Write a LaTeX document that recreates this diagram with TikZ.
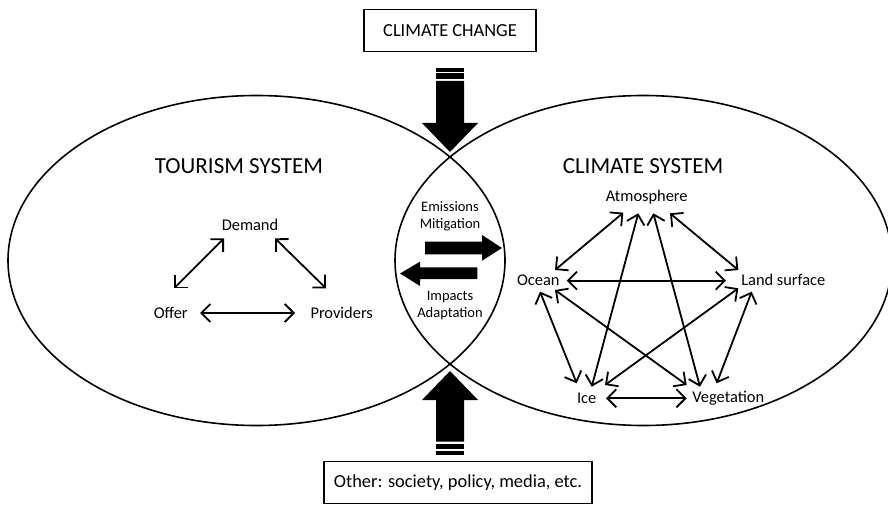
\documentclass[tikz,border=0pt]{standalone}
\usepackage{fontspec}
\setmainfont{Carlito}
\usetikzlibrary{arrows.meta}

\begin{document}
\begin{tikzpicture}[x=1pt,y=-1pt,
  compLabel/.style={font=\fontsize{16.4}{19}\selectfont, inner sep=1pt},
  sysTitle/.style={font=\fontsize{23}{27}\selectfont},
  boxText/.style={draw, line width=1.5pt, font=\fontsize{18.4}{22}\selectfont, minimum height=42pt, inner xsep=10pt},
  lensText/.style={font=\fontsize{14.5}{17}\selectfont, align=center},
  link/.style={line width=1.8pt, {Straight Barb[length=9pt,width=18pt]}-{Straight Barb[length=9pt,width=18pt]}}]
  \useasboundingbox (0,0) rectangle (888,505);

  \draw[line width=1.6pt] (256.5,260.5) ellipse [x radius=248.5, y radius=165];
  \draw[line width=1.6pt] (643.5,260.5) ellipse [x radius=248.5, y radius=165];

  \node[boxText, minimum width=172pt] (change) at (450,30.5) {CLIMATE CHANGE};
  \node[boxText, minimum width=260pt] (other) at (458,482.5) {Other: society, policy, media, etc.};

  \node[sysTitle] (tourism) at (239,166) {TOURISM SYSTEM};
  \node[sysTitle] (climate) at (643,166) {CLIMATE SYSTEM};

  % tourism side
  \node[compLabel] (demand) at (250,225) {Demand};
  \node[compLabel] (offer) at (170.7,313) {Offer};
  \node[compLabel] (providers) at (341.7,313) {Providers};

  \draw[link] ([shift={(-26,13.3)}]demand.center) -- ([shift={(3.3,-24.7)}]offer.center);
  \draw[link] ([shift={(25,13.3)}]demand.center) -- ([shift={(-15.7,-24.7)}]providers.center);
  \draw[link] ([shift={(29.3,0)}]offer.center) -- ([shift={(-46.7,0)}]providers.center);

  % climate side
  \node[compLabel] (atm) at (646.7,196.7) {Atmosphere};
  \node[compLabel] (ocean) at (538.3,280) {Ocean};
  \node[compLabel] (land) at (783.3,280) {Land surface};
  \node[compLabel] (ice) at (586.7,398.3) {Ice};
  \node[compLabel] (veg) at (728.3,398.3) {Vegetation};

  \draw[link] ([shift={(-23.4,16)}]atm.center) -- ([shift={(16.7,-10)}]ocean.center);
  \draw[link] ([shift={(-8.4,16.6)}]atm.center) -- ([shift={(5,-11.6)}]ice.center);
  \draw[link] ([shift={(6.6,16.6)}]atm.center) -- ([shift={(-28.3,-11.6)}]veg.center);
  \draw[link] ([shift={(23.3,16.6)}]atm.center) -- ([shift={(-45,-10)}]land.center);
  \draw[link] ([shift={(28.4,0.7)}]ocean.center) -- ([shift={(-57.3,0.7)}]land.center);
  \draw[link] ([shift={(1.7,11.7)}]ocean.center) -- ([shift={(-10,-15)}]ice.center);
  \draw[link] ([shift={(16.7,10)}]ocean.center) -- ([shift={(-41.6,-13.3)}]veg.center);
  \draw[link] ([shift={(-45,8.3)}]land.center) -- ([shift={(18.3,-13.3)}]ice.center);
  \draw[link] ([shift={(-31.6,11.7)}]land.center) -- ([shift={(-11.6,-15)}]veg.center);
  \draw[link] ([shift={(19.3,0)}]ice.center) -- ([shift={(-41.6,0)}]veg.center);

  % overlap
  \node[lensText] (emissions) at (450,216.5) {Emissions\\Mitigation};
  \node[lensText] (impacts) at (450,305.5) {Impacts\\Adaptation};
  \fill (425,241.7) -- (482,241.7) -- (482,235) -- (502,248) -- (482,260.7) -- (482,254.3) -- (425,254.3) -- cycle;
  \fill (400,273.5) -- (420,261.7) -- (420,267.3) -- (477.3,267.3) -- (477.3,279) -- (420,279) -- (420,286) -- cycle;

  % big arrows
  \fill (436,68) rectangle (464,72);
  \fill (436,73.5) rectangle (464,79.5);
  \fill (436,81) -- (464,81) -- (464,123) -- (478,123) -- (450,152) -- (422,123) -- (436,123) -- cycle;
  \fill (450,371) -- (478,400) -- (464,400) -- (464,441.7) -- (436,441.7) -- (436,400) -- (422,400) -- cycle;
  \fill (436,444) rectangle (464,449.3);
  \fill (436,451) rectangle (464,455);
\end{tikzpicture}
\end{document}
